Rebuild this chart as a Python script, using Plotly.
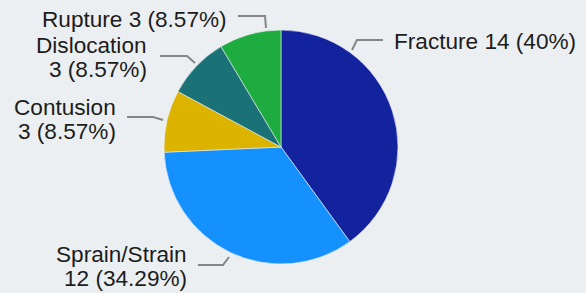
import plotly.graph_objects as go

# ---- data ----
categories = ["Fracture", "Sprain/Strain", "Contusion", "Dislocation", "Rupture"]
counts = [14, 12, 3, 3, 3]
colors = ["#13239d", "#1590ff", "#dcb400", "#1b7276", "#1eab40"]

W, H = 586, 293
BG = "#ebeff1"
CX, CY, R = 281, 147, 117  # pie centre / radius in pixels (layout)

total = sum(counts)


def fmt_pct(v):
    p = round(v / total * 100, 2)
    s = f"{p:.2f}".rstrip("0").rstrip(".")
    return s + "%"


# label text lines per slice (wrapped like the reference)
label_lines = []
for c, v in zip(categories, counts):
    if c in ("Fracture", "Rupture"):
        label_lines.append([f"{c} {v} ({fmt_pct(v)})"])
    else:
        label_lines.append([c, f"{v} ({fmt_pct(v)})"])

# label layout (pixel positions): text anchor x, first baseline y, anchor side, connector path
LABEL_LAYOUT = {
    "Fracture": dict(x=393, y=49, side="left", path=[(383, 40), (357, 40), (352, 50)]),
    "Sprain/Strain": dict(x=188, y=262, side="right", path=[(198, 265), (223, 265), (229, 257)]),
    "Contusion": dict(x=117, y=115, side="right", path=[(127, 117), (153, 117), (163, 120)]),
    "Dislocation": dict(x=148, y=53, side="right", path=[(160, 56), (187, 56), (195, 63)]),
    "Rupture": dict(x=228, y=27, side="right", path=[(238, 16), (265, 16), (266, 28)]),
}
FONT_SIZE = 22.6
LINE_GAP = 24


def px(x):
    return x / W


def py(y):
    return 1 - y / H


fig = go.Figure(
    go.Pie(
        labels=categories,
        values=counts,
        marker=dict(colors=colors, line=dict(color=BG, width=0.6)),
        sort=False,
        direction="clockwise",
        rotation=0,
        textinfo="none",
        hoverinfo="label+value+percent",
        domain=dict(x=[px(CX - R), px(CX + R)], y=[py(CY + R), py(CY - R)]),
        showlegend=False,
    )
)

annotations = []
shapes = []
for cat, lines in zip(categories, label_lines):
    L = LABEL_LAYOUT[cat]
    for i, t in enumerate(lines):
        base = L["y"] + i * LINE_GAP
        mid = base - 0.315 * FONT_SIZE
        annotations.append(
            dict(
                x=px(L["x"]), y=py(mid), xref="paper", yref="paper",
                text=t, showarrow=False,
                xanchor=L["side"], yanchor="middle",
                align=L["side"],
                font=dict(family="Liberation Sans, Arial, sans-serif", size=FONT_SIZE, color="#1c1c1c"),
                borderpad=0,
            )
        )
    pts = L["path"]
    d = "M " + " L ".join(f"{px(a):.5f},{py(b):.5f}" for a, b in pts)
    shapes.append(dict(type="path", path=d, xref="paper", yref="paper",
                       line=dict(color="#858585", width=2)))

fig.update_layout(
    width=W, height=H,
    margin=dict(l=0, r=0, t=0, b=0),
    paper_bgcolor=BG, plot_bgcolor=BG,
    annotations=annotations, shapes=shapes,
)

fig.write_html(
    "out.html",
    config={"displayModeBar": False},
    post_script="document.body.style.margin='0';document.body.style.background='%s';" % BG,
)
